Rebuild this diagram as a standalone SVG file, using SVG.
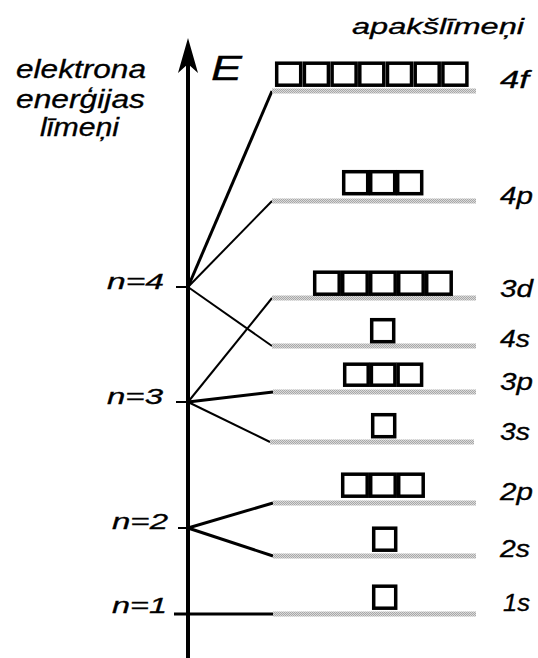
<svg xmlns="http://www.w3.org/2000/svg" width="538" height="658" viewBox="0 0 538 658">
<defs>
<pattern id="dots" width="2" height="2" patternUnits="userSpaceOnUse">
<rect width="2" height="2" fill="#dadada"/>
<rect width="1" height="1" fill="#a8a8a8"/>
<rect x="1" y="1" width="1" height="1" fill="#a8a8a8"/>
</pattern>
<style>
.t{font-family:"Liberation Sans",Arial,sans-serif;font-style:italic;fill:#000;stroke:#000;stroke-width:0.3}
.bar{fill:url(#dots)}
.box{fill:#fff;stroke:#000;stroke-width:3.5}
.c{stroke:#000;fill:none}
</style>
</defs>
<rect width="538" height="658" fill="#fff"/>

<g id="axis">
<line x1="188" y1="60" x2="188" y2="658" stroke="#000" stroke-width="4"/>
<polygon points="188,38 198,73 188,64 178,73" fill="#000"/>
<text class="t" x="211" y="80" font-size="35" textLength="31" lengthAdjust="spacingAndGlyphs">E</text>
<line x1="176" y1="287" x2="188" y2="287" stroke="#000" stroke-width="2"/>
<line x1="176" y1="402" x2="188" y2="402" stroke="#000" stroke-width="2"/>
<line x1="178" y1="528" x2="188" y2="528" stroke="#000" stroke-width="2"/>
</g>

<g id="title-left" class="t" font-size="25">
<text x="16" y="78" textLength="130" lengthAdjust="spacingAndGlyphs">elektrona</text>
<text x="16" y="108" textLength="129" lengthAdjust="spacingAndGlyphs">enerģijas</text>
<text x="40" y="136" textLength="79" lengthAdjust="spacingAndGlyphs">līmeņi</text>
</g>
<g id="title-right">
<text class="t" x="352" y="34" font-size="22" textLength="172" lengthAdjust="spacingAndGlyphs">apakšlīmeņi</text>
</g>

<g id="n-labels" class="t" font-size="22">
<text x="107" y="289" textLength="57" lengthAdjust="spacingAndGlyphs">n=4</text>
<text x="107" y="404" textLength="56" lengthAdjust="spacingAndGlyphs">n=3</text>
<text x="112" y="529" textLength="56" lengthAdjust="spacingAndGlyphs">n=2</text>
<text x="112" y="613" textLength="55" lengthAdjust="spacingAndGlyphs">n=1</text>
</g>

<g id="connectors" class="c">
<line x1="188" y1="287" x2="272" y2="91" stroke-width="3"/>
<line x1="188" y1="287" x2="272" y2="201" stroke-width="2"/>
<line x1="188" y1="287" x2="272" y2="346" stroke-width="2"/>
<line x1="188" y1="402" x2="272" y2="298" stroke-width="2"/>
<line x1="188" y1="402" x2="273" y2="392" stroke-width="3"/>
<line x1="188" y1="402" x2="270" y2="442" stroke-width="2"/>
<line x1="188" y1="528" x2="273" y2="503" stroke-width="3"/>
<line x1="188" y1="528" x2="273" y2="556" stroke-width="3"/>
<line x1="174" y1="614" x2="273" y2="614" stroke-width="3"/>
</g>

<g id="sub-4f">
<rect class="bar" x="272" y="88.5" width="204" height="5"/>
<rect class="box" x="276.7" y="63.2" width="24" height="22"/>
<rect class="box" x="304.4" y="63.2" width="24" height="22"/>
<rect class="box" x="332.1" y="63.2" width="24" height="22"/>
<rect class="box" x="359.8" y="63.2" width="24" height="22"/>
<rect class="box" x="387.5" y="63.2" width="24" height="22"/>
<rect class="box" x="415.2" y="63.2" width="24" height="22"/>
<rect class="box" x="442.9" y="63.2" width="24" height="22"/>
<text class="t" x="500" y="88" font-size="23" textLength="29" lengthAdjust="spacingAndGlyphs">4f</text>
</g>

<g id="sub-4p">
<rect class="bar" x="272" y="198.5" width="204" height="5"/>
<rect class="box" x="343.7" y="171.7" width="24" height="22"/>
<rect class="box" x="370.7" y="171.7" width="24" height="22"/>
<rect class="box" x="397.7" y="171.7" width="24" height="22"/>
<text class="t" x="500" y="204" font-size="23" textLength="33" lengthAdjust="spacingAndGlyphs">4p</text>
</g>

<g id="sub-3d">
<rect class="bar" x="272" y="295.5" width="204" height="5"/>
<rect class="box" x="314.7" y="272.2" width="24.5" height="22"/>
<rect class="box" x="342.7" y="272.2" width="24.5" height="22"/>
<rect class="box" x="370.7" y="272.2" width="24.5" height="22"/>
<rect class="box" x="398.7" y="272.2" width="24.5" height="22"/>
<rect class="box" x="426.7" y="272.2" width="24.5" height="22"/>
<text class="t" x="500" y="297" font-size="23" textLength="33" lengthAdjust="spacingAndGlyphs">3d</text>
</g>

<g id="sub-4s">
<rect class="bar" x="272" y="343.5" width="204" height="5"/>
<rect class="box" x="371.7" y="319.7" width="22" height="22"/>
<text class="t" x="500" y="347" font-size="23" textLength="30" lengthAdjust="spacingAndGlyphs">4s</text>
</g>

<g id="sub-3p">
<rect class="bar" x="273" y="389.5" width="203" height="5"/>
<rect class="box" x="344.7" y="364.2" width="23.5" height="21"/>
<rect class="box" x="371.4" y="364.2" width="23.5" height="21"/>
<rect class="box" x="398.1" y="364.2" width="23.5" height="21"/>
<text class="t" x="500" y="390" font-size="23" textLength="33" lengthAdjust="spacingAndGlyphs">3p</text>
</g>

<g id="sub-3s">
<rect class="bar" x="270" y="439.5" width="204" height="5"/>
<rect class="box" x="372.7" y="414.7" width="22" height="22"/>
<text class="t" x="500" y="440" font-size="23" textLength="30" lengthAdjust="spacingAndGlyphs">3s</text>
</g>

<g id="sub-2p">
<rect class="bar" x="273" y="500.5" width="203" height="5"/>
<rect class="box" x="342.7" y="474.2" width="24.5" height="22"/>
<rect class="box" x="370.7" y="474.2" width="24.5" height="22"/>
<rect class="box" x="398.7" y="474.2" width="24.5" height="22"/>
<text class="t" x="500" y="500" font-size="23" textLength="33" lengthAdjust="spacingAndGlyphs">2p</text>
</g>

<g id="sub-2s">
<rect class="bar" x="273" y="553.5" width="203" height="5"/>
<rect class="box" x="373.7" y="528.2" width="22" height="22"/>
<text class="t" x="500" y="557" font-size="23" textLength="30" lengthAdjust="spacingAndGlyphs">2s</text>
</g>

<g id="sub-1s">
<rect class="bar" x="273" y="611.5" width="203" height="5"/>
<rect class="box" x="373.7" y="586.2" width="22" height="22"/>
<text class="t" x="503" y="611" font-size="23" textLength="27" lengthAdjust="spacingAndGlyphs">1s</text>
</g>
</svg>
